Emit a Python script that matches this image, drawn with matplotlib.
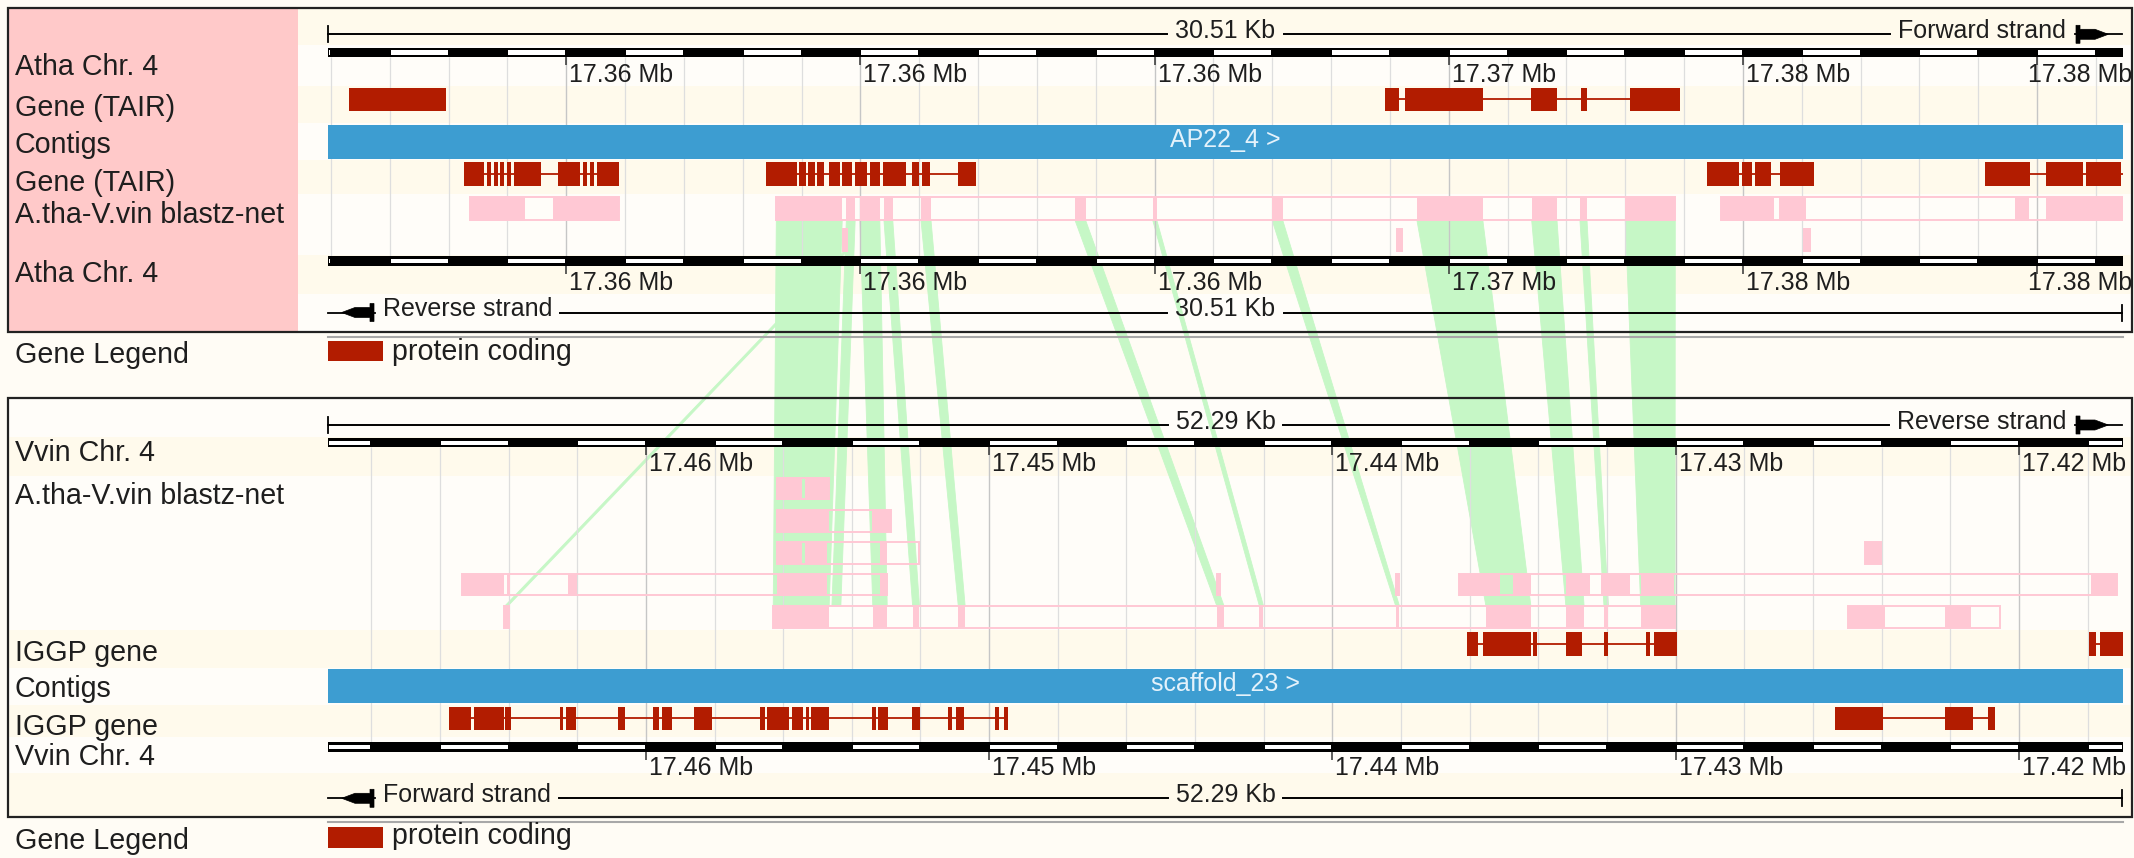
import matplotlib
matplotlib.use('Agg')
import matplotlib.pyplot as plt
from matplotlib.patches import Rectangle, Polygon
from matplotlib.transforms import offset_copy
import numpy as np

plt.rcParams['font.family'] = ['Liberation Sans', 'DejaVu Sans']

# ---- region data (positions in kb from the left edge of each view) ----
ATHA_SPAN = 30.51
VVIN_SPAN = 52.29
ATHA_TICKS = [4.05, 9.05, 14.05, 19.05, 24.05, 29.05]
ATHA_TICK_LABELS = ['17.36 Mb', '17.36 Mb', '17.36 Mb', '17.37 Mb', '17.38 Mb', '17.38 Mb']
VVIN_TICKS = [9.26, 19.26, 29.26, 39.26, 49.26]
VVIN_TICK_LABELS = ['17.46 Mb', '17.45 Mb', '17.44 Mb', '17.43 Mb', '17.42 Mb']

ATHA_TRACKS = ['Atha Chr. 4', 'Gene (TAIR)', 'Contigs', 'Gene (TAIR)',
               'A.tha-V.vin blastz-net', 'Atha Chr. 4']
VVIN_TRACKS = ['Vvin Chr. 4', 'A.tha-V.vin blastz-net', 'IGGP gene', 'Contigs',
               'IGGP gene', 'Vvin Chr. 4']
ATHA_CONTIG = 'AP22_4 >'
VVIN_CONTIG = 'scaffold_23 >'

# genes: (span start, span end, exons)
ATHA_GENES_UPPER = [
    (0.36, 2.00, [(0.36, 2.00)]),
    (17.97, 22.98, [(17.97, 18.20), (18.31, 19.63), (20.45, 20.89), (21.30, 21.40),
                    (22.13, 22.98)]),
]
ATHA_GENES_LOWER = [
    (2.31, 4.95, [(2.31, 2.65), (2.70, 2.77), (2.82, 2.89), (2.92, 2.99), (3.04, 3.11),
                  (3.16, 3.62), (3.91, 4.28), (4.33, 4.40), (4.45, 4.52), (4.57, 4.95)]),
    (7.45, 11.01, [(7.45, 7.97), (8.01, 8.12), (8.16, 8.28), (8.32, 8.43), (8.52, 8.70),
                   (8.74, 8.91), (8.96, 9.16), (9.21, 9.38), (9.44, 9.82), (9.93, 10.05),
                   (10.10, 10.24), (10.71, 11.01)]),
    (23.44, 25.26, [(23.44, 23.98), (24.03, 24.20), (24.26, 24.53), (24.68, 25.26)]),
    (28.16, 30.51, [(28.16, 28.93), (29.20, 29.83), (29.88, 30.47)]),
]
VVIN_GENES_UPPER = [
    (33.18, 39.29, [(33.18, 33.49), (33.66, 35.04), (35.10, 35.21), (36.06, 36.52),
                    (37.17, 37.29), (38.39, 38.51), (38.62, 39.29)]),
    (51.29, 52.29, [(51.29, 51.50), (51.61, 52.29)]),
]
VVIN_GENES_LOWER = [
    (3.52, 19.80, [(3.52, 4.17), (4.25, 5.12), (5.17, 5.33), (6.76, 6.86), (6.93, 7.22),
                   (8.45, 8.65), (9.46, 9.63), (9.72, 10.02), (10.66, 11.19), (12.58, 12.72),
                   (12.79, 13.42), (13.51, 13.83), (13.93, 14.01), (14.07, 14.60),
                   (15.85, 15.96), (16.02, 16.30), (17.01, 17.25), (18.06, 18.18),
                   (18.29, 18.53), (19.43, 19.55), (19.68, 19.80)]),
    (43.91, 48.55, [(43.91, 45.29), (47.10, 47.93), (48.35, 48.55)]),
]

# blastz-net chains: (start, end, aligned blocks)
ATHA_NET = [
    (2.41, 4.95, [(2.41, 3.34), (3.82, 4.95)]),
    (7.62, 22.90, [(7.62, 8.74), (8.81, 8.96), (9.04, 9.38), (9.45, 9.60), (10.08, 10.25),
                   (12.70, 12.88), (14.02, 14.09), (16.05, 16.23), (18.51, 19.63),
                   (20.46, 20.89), (21.28, 21.40), (22.05, 22.90)]),
    (23.68, 30.51, [(23.68, 24.58), (24.66, 25.12), (28.67, 28.91), (29.20, 30.51)]),
]
ATHA_NET_SUB = [(8.73, 8.84), (18.15, 18.27), (25.07, 25.21)]

VVIN_NET_ROWS = [
    [(13.07, 14.60, [(13.07, 13.80), (13.90, 14.60)])],
    [(13.07, 16.39, [(13.07, 14.60), (15.84, 16.39)])],
    [(13.07, 17.23, [(13.07, 13.80), (13.90, 14.53), (16.08, 16.28)]),
     (44.77, 45.23, [(44.77, 45.23)])],
    [(3.90, 16.29, [(3.90, 5.14), (5.21, 5.30), (6.99, 7.25), (13.07, 14.53), (16.08, 16.29)]),
     (25.90, 25.99, [(25.90, 25.99)]),
     (31.11, 31.20, [(31.11, 31.20)]),
     (32.95, 52.12, [(32.95, 34.14), (34.52, 35.04), (36.06, 36.75), (37.08, 37.94),
                     (38.26, 39.20), (51.35, 52.12)])],
    [(5.13, 5.28, [(5.13, 5.28)]),
     (12.97, 39.24, [(12.97, 14.60), (15.87, 16.29), (17.03, 17.23), (18.36, 18.56),
                     (25.89, 26.10), (27.13, 27.25), (31.10, 31.21), (33.73, 35.04),
                     (36.06, 36.59), (37.17, 37.30), (38.24, 39.24)]),
     (44.28, 48.71, [(44.28, 45.36), (47.10, 47.87)])],
]

# links between the two views: (upper track, atha start, atha end, vvin start, vvin end)
LINKS = [
    ('sub', 8.76, 8.81, 5.16, 5.25),
    ('net', 7.62, 8.74, 12.97, 14.60),
    ('net', 8.81, 8.96, 14.68, 14.94),
    ('net', 9.04, 9.38, 15.87, 16.29),
    ('net', 9.45, 9.60, 17.03, 17.23),
    ('net', 10.08, 10.25, 18.36, 18.56),
    ('net', 12.70, 12.88, 25.89, 26.10),
    ('net', 14.02, 14.09, 27.13, 27.25),
    ('net', 16.05, 16.23, 31.10, 31.21),
    ('net', 18.51, 19.63, 33.73, 35.04),
    ('net', 20.46, 20.89, 36.06, 36.59),
    ('net', 21.28, 21.40, 37.17, 37.30),
    ('net', 22.05, 22.90, 38.24, 39.24),
]

# ---- page layout (pixels) ----
W, H = 2134, 858
X0, X1 = 328, 2123
BG = '#fffcf5'
CREAM = '#fffaec'
LIGHT = '#fffdf9'
LABEL_PINK = '#ffc9c9'
GENE_RED = '#b21c00'
CONTIG_BLUE = '#3d9dd1'
NET_PINK = '#ffc8d4'
RIBBON = '#c6f7c6'
INK = '#1e1e1e'
LABEL_FS = 20.6
SMALL_FS = 18

fig = plt.figure(figsize=(W / 100, H / 100), dpi=100)
fig.patch.set_facecolor(BG)


def px_axes(z):
    ax = fig.add_axes([0, 0, 1, 1], zorder=z)
    ax.set_xlim(0, W)
    ax.set_ylim(H, 0)
    ax.axis('off')
    return ax


def track_axes(span, z):
    ax = fig.add_axes([X0 / W, 0, (X1 - X0) / W, 1], zorder=z)
    ax.set_xlim(0, span)
    ax.set_ylim(H, 0)
    ax.axis('off')
    return ax


ax_bg = px_axes(0)
ax_rib = px_axes(1)
ax_top = track_axes(ATHA_SPAN, 2)
ax_bot = track_axes(VVIN_SPAN, 2)
ax_fg = px_axes(3)

# backgrounds: alternating track bands, pink label column on the upper view
top_bands = [8.3, 45, 86, 123, 160, 194, 255, 294, 331.7]
for i in range(len(top_bands) - 1):
    ax_bg.add_patch(Rectangle((8.3, top_bands[i]), 2124, top_bands[i + 1] - top_bands[i],
                              color=CREAM if i % 2 == 0 else LIGHT, lw=0))
ax_bg.add_patch(Rectangle((8.3, 8.3), 290, 323.4, color=LABEL_PINK, lw=0))
bot_bands = [398.3, 437, 476, 630, 668, 705, 737, 773, 816.7]
for i in range(len(bot_bands) - 1):
    ax_bg.add_patch(Rectangle((8.3, bot_bands[i]), 2124, bot_bands[i + 1] - bot_bands[i],
                              color=LIGHT if i % 2 == 0 else CREAM, lw=0))


def draw_chrom(ax, span, y0, y1, origin, step):
    ax.add_patch(Rectangle((0, y0), span, y1 - y0, color='black', lw=0, zorder=3))
    inset = 1.0 * span / (X1 - X0)
    edges = list(np.arange(origin - step, span + step, step))
    for k, (a, b) in enumerate(zip(edges[:-1], edges[1:])):
        if k % 2 == 0:       # first segment (left of origin) is white
            a, b = max(a, 0) + inset, min(b, span) - inset
            if b > a:
                ax.add_patch(Rectangle((a, y0 + 2.7), b - a, y1 - y0 - 5.4,
                                       color='white', lw=0, zorder=3.1))


def draw_axis(ax, span, ticks, labels, grid, grid_y, bars, label_y):
    ax.vlines(grid, grid_y[0], grid_y[1], colors='#dedede', lw=0.9, zorder=0.5)
    ax.vlines(ticks, grid_y[0], grid_y[1], colors='#c6c6c6', lw=0.9, zorder=0.6)
    off = offset_copy(ax.transData, fig, x=3, units='dots')
    for (y0, y1), ly in zip(bars, label_y):
        draw_chrom(ax, span, y0, y1, grid[0], grid[1] - grid[0])
        ax.vlines(ticks, y1, y1 + 8, colors='#333333', lw=1.1, zorder=3)
        for t, lab in zip(ticks, labels):
            txt = ax.text(t, ly, lab, transform=off, ha='left', va='baseline',
                          fontsize=SMALL_FS, color=INK)
            # keep the right-most label inside the page
            bb = txt.get_window_extent(renderer=fig.canvas.get_renderer())
            if bb.x1 > W - 2:
                txt.set_transform(offset_copy(ax.transData, fig, x=3 - (bb.x1 - W + 2),
                                              units='dots'))


def draw_gene(ax, genes, y0, y1):
    yc = (y0 + y1) / 2
    for s, e, exons in genes:
        ax.plot([s, e], [yc, yc], color=GENE_RED, lw=1.3, solid_capstyle='butt', zorder=2)
        for a, b in exons:
            ax.add_patch(Rectangle((a, y0), b - a, y1 - y0, color=GENE_RED, lw=0, zorder=2))


def draw_net(ax, chains, y0, y1):
    for s, e, blocks in chains:
        ax.add_patch(Rectangle((s, y0 + 0.7), e - s, y1 - y0 - 1.4, fill=False,
                               ec=NET_PINK, lw=1.4, zorder=2))
        for a, b in blocks:
            ax.add_patch(Rectangle((a, y0), b - a, y1 - y0, color=NET_PINK, lw=0, zorder=2))


def draw_contig(ax, span, y0, y1, name):
    ax.add_patch(Rectangle((0, y0), span, y1 - y0, color=CONTIG_BLUE, lw=0, zorder=2))
    ax.text(span / 2, (y0 + y1) / 2 - 2, name, ha='center', va='center',
            fontsize=SMALL_FS, color='#e4f2fb', zorder=3)


# ---- upper view: A. thaliana ----
draw_axis(ax_top, ATHA_SPAN, ATHA_TICKS, ATHA_TICK_LABELS, np.arange(0.05, ATHA_SPAN, 1.0),
          (57.3, 256), [(47.7, 57.3), (256, 266)], [81.7, 290])
draw_gene(ax_top, ATHA_GENES_UPPER, 87.7, 111)
draw_contig(ax_top, ATHA_SPAN, 125, 159.3, ATHA_CONTIG)
draw_gene(ax_top, ATHA_GENES_LOWER, 162.3, 185.7)
draw_net(ax_top, ATHA_NET, 196.7, 220.7)
for a, b in ATHA_NET_SUB:
    ax_top.add_patch(Rectangle((a, 228.3), b - a, 23.7, color=NET_PINK, lw=0, zorder=2))

# ---- lower view: V. vinifera (reverse strand, left to right) ----
draw_axis(ax_bot, VVIN_SPAN, VVIN_TICKS, VVIN_TICK_LABELS, np.arange(1.26, VVIN_SPAN, 2.0),
          (447.3, 742.3), [(438.3, 447.3), (742.3, 751.7)], [470.7, 775])
net_tops = [477, 509.7, 541.7, 573.5, 605.7]
for chains, yt in zip(VVIN_NET_ROWS, net_tops):
    draw_net(ax_bot, chains, yt, yt + 22.5)
draw_gene(ax_bot, VVIN_GENES_UPPER, 631.7, 656)
draw_contig(ax_bot, VVIN_SPAN, 669.3, 703.3, VVIN_CONTIG)
draw_gene(ax_bot, VVIN_GENES_LOWER, 706.7, 730)

# ---- synteny ribbons ----
inv = ax_rib.transData.inverted()
top_y = {'net': 220.7, 'sub': 252.0}
for row, a0, a1, v0, v1 in LINKS:
    pts = [(ax_top, a0, top_y[row]), (ax_top, a1, top_y[row]),
           (ax_bot, v1, net_tops[-1]), (ax_bot, v0, net_tops[-1])]
    xy = [inv.transform(ax.transData.transform((x, y))) for ax, x, y in pts]
    ax_rib.add_patch(Polygon(xy, closed=True, fc=RIBBON, ec=RIBBON, lw=0.6))

# ---- frames, scale bars, labels ----
for y0, y1 in [(8.3, 331.7), (398.3, 816.7)]:
    ax_fg.add_patch(Rectangle((8.3, y0), 2123.5, y1 - y0, fill=False, ec='#222222', lw=1.6))
    ax_fg.plot([X0, X1], [y1 + 5, y1 + 5], color='#a8a8a8', lw=1.5)

renderer = fig.canvas.get_renderer()
fg_inv = ax_fg.transData.inverted()


def text_span(t):
    bb = t.get_window_extent(renderer=renderer)
    (xa, _), (xb, _) = fg_inv.transform([[bb.x0, bb.y0], [bb.x1, bb.y1]])
    return min(xa, xb), max(xa, xb)


def strand_arrow(y, right):
    # small strand arrow, drawn pointing left then mirrored for the right end
    sx = (lambda x: X0 + X1 - 1 - x) if right else (lambda x: x)
    ax_fg.plot([sx(328), sx(375)], [y, y], color='black', lw=1.3)
    shape = [(341.7, y), (355, y - 5), (370, y - 5), (370, y - 9), (374, y - 9),
             (374, y + 9), (370, y + 9), (370, y + 5), (355, y + 5)]
    ax_fg.add_patch(Polygon([(sx(x), yy) for x, yy in shape], closed=True,
                            fc='black', ec='black', lw=0.5))


def draw_scale(y, length, strand, arrow_right):
    c = ax_fg.text((X0 + X1) / 2, y + 4, length, ha='center', va='baseline',
                   fontsize=SMALL_FS, color=INK)
    if arrow_right:
        s = ax_fg.text(2066, y + 4, strand, ha='right', va='baseline', fontsize=SMALL_FS,
                       color=INK)
    else:
        s = ax_fg.text(383, y + 4, strand, ha='left', va='baseline', fontsize=SMALL_FS,
                       color=INK)
    cl, cr = text_span(c)
    sl, sr = text_span(s)
    gap = 8
    if arrow_right:
        segs = [(X0, cl - gap), (cr + gap, sl - gap)]
        ax_fg.plot([X0, X0], [y - 8, y + 8], color='black', lw=1.3)
    else:
        segs = [(sr + gap, cl - gap), (cr + gap, X1 - 1.5)]
        ax_fg.plot([X1 - 1.5, X1 - 1.5], [y - 8, y + 8], color='black', lw=1.3)
    for a, b in segs:
        ax_fg.plot([a, b], [y, y], color='black', lw=1.4)
    strand_arrow(y, arrow_right)


draw_scale(34.3, '30.51 Kb', 'Forward strand', True)
draw_scale(312.5, '30.51 Kb', 'Reverse strand', False)
draw_scale(425.0, '52.29 Kb', 'Reverse strand', True)
draw_scale(798.3, '52.29 Kb', 'Forward strand', False)

for name, y in zip(ATHA_TRACKS, [75, 116.5, 153, 191, 222.7, 282]):
    ax_fg.text(15, y, name, ha='left', va='baseline', fontsize=LABEL_FS, color=INK)
for name, y in zip(VVIN_TRACKS, [460.7, 504, 660.7, 697.3, 735, 765]):
    ax_fg.text(15, y, name, ha='left', va='baseline', fontsize=LABEL_FS, color=INK)

# gene legends under each view
for sy, ty, gy in [(340.7, 359.5, 363.3), (827.3, 844.5, 849.3)]:
    ax_fg.text(15, gy, 'Gene Legend', ha='left', va='baseline', fontsize=LABEL_FS, color=INK)
    ax_fg.add_patch(Rectangle((328, sy), 55, 20.5, color=GENE_RED, lw=0))
    ax_fg.text(391.7, ty, 'protein coding', ha='left', va='baseline', fontsize=LABEL_FS,
               color=INK)

fig.savefig('out.png', dpi=100, facecolor=fig.get_facecolor())
